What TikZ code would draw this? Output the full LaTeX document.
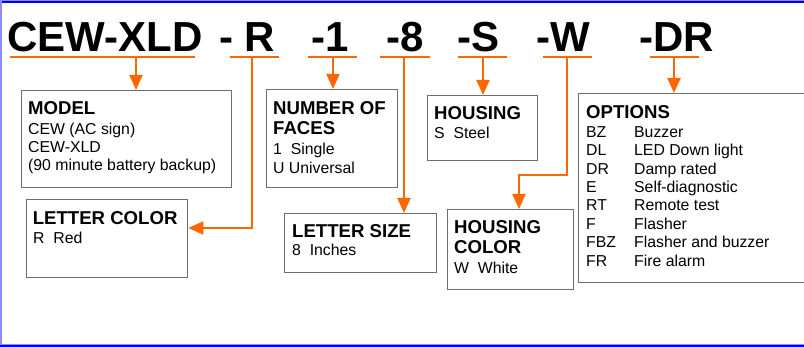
\documentclass[tikz,border=0pt]{standalone}
\usepackage{fontspec}
\setmainfont{Liberation Sans}
\usetikzlibrary{arrows.meta}
\definecolor{orng}{HTML}{FF6600}
\definecolor{boxgray}{HTML}{6E6E6E}
\definecolor{frameblue}{HTML}{0000FF}
\definecolor{framelav}{HTML}{8C8CFF}
\tikzset{
  hdr/.style={anchor=base west, inner sep=0pt, font=\fontsize{42}{42}\selectfont\bfseries},
  uline/.style={orng, line width=2pt},
  conn/.style={orng, line width=2pt, -{Triangle[length=15pt,width=13pt]}},
  infobox/.style={draw=boxgray, line width=1.3pt, anchor=north west, inner sep=0pt},
  ttl/.style={anchor=base west, inner sep=0pt, font=\fontsize{18.6}{20}\selectfont\bfseries},
  bdy/.style={anchor=base west, inner sep=0pt, font=\fontsize{15.8}{18}\selectfont},
}
\newcommand{\optrow}[2]{\makebox[48pt][l]{#1}#2}
\begin{document}
\begin{tikzpicture}[x=1pt,y=-1pt]
\useasboundingbox (0,0) rectangle (804,347);
% frame
\fill[framelav] (0,0) rectangle (804,1);
\fill[frameblue] (0,1) rectangle (804,3.2);
\fill[framelav] (0,0) rectangle (1.6,347);
\fill[framelav] (0,344) rectangle (804,345.2);
\fill[frameblue] (0,345.2) rectangle (804,347);

% header
\node[hdr] (hA) at (7,52) {CEW-XLD};
\node[hdr] (hB) at (219,52) {- R};
\node[hdr] (hC) at (311,52) {-1};
\node[hdr] (hD) at (386,52) {-8};
\node[hdr] (hE) at (457,52) {-S};
\node[hdr] (hF) at (536,52) {-W};
\node[hdr] (hG) at (639,52) {-DR};

% underlines
\draw[uline] (10,57.5) -- (195,57.5);
\draw[uline] (230,57.5) -- (279,57.5);
\draw[uline] (308,57.5) -- (357,57.5);
\draw[uline] (380,57.5) -- (430,57.5);
\draw[uline] (458,57.5) -- (507,57.5);
\draw[uline] (543,57.5) -- (592,57.5);
\draw[uline] (650,57.5) -- (699,57.5);

\coordinate (cA) at (136,57.5);
\coordinate (cB) at (252,57.5);
\coordinate (cC) at (333,57.5);
\coordinate (cD) at (404,57.5);
\coordinate (cE) at (483,57.5);
\coordinate (cF) at (567,57.5);
\coordinate (cG) at (674,57.5);

% boxes
\node[infobox, minimum width=210pt, minimum height=97pt] (model) at (21,90) {};
\node[infobox, minimum width=161pt, minimum height=78pt] (lc) at (26,199) {};
\node[infobox, minimum width=131pt, minimum height=98pt] (faces) at (266,89) {};
\node[infobox, minimum width=110pt, minimum height=65pt] (housing) at (427,95) {};
\node[infobox, minimum width=152pt, minimum height=59pt] (size) at (284,213) {};
\node[infobox, minimum width=126pt, minimum height=80pt] (hc) at (447,209) {};
\node[infobox, minimum width=230pt, minimum height=189pt] (opt) at (578,93) {};

% texts
\node[ttl] (tModel) at (28,115) {MODEL};
\node[bdy] (bModel) at (28,134.3) {\begin{tabular}[t]{@{}l@{}}CEW (AC sign)\\CEW-XLD\\(90 minute battery backup)\end{tabular}};

\node[ttl] (tLc) at (32.6,225) {LETTER COLOR};
\node[bdy] (bLc) at (33,243.3) {R~~Red};

\node[ttl] (tFaces) at (273,115) {\begin{tabular}[t]{@{}l@{}}NUMBER OF\\FACES\end{tabular}};
\node[bdy] (bFaces) at (273,154.6) {\fontsize{15.8}{19}\selectfont\begin{tabular}[t]{@{}l@{}}1~~Single\\U Universal\end{tabular}};

\node[ttl] (tHousing) at (434,120) {HOUSING};
\node[bdy] (bHousing) at (434,138.3) {S~~Steel};

\node[ttl] (tSize) at (292,237.3) {LETTER SIZE};
\node[bdy] (bSize) at (292,256) {8~~Inches};

\node[ttl] (tHc) at (454,234) {\begin{tabular}[t]{@{}l@{}}HOUSING\\COLOR\end{tabular}};
\node[bdy] (bHc) at (454,273.3) {W~~White};

\node[ttl] (tOpt) at (586,119) {OPTIONS};
\node[bdy] (bOpt) at (586,137.3) {\fontsize{15.8}{18.4}\selectfont\begin{tabular}[t]{@{}l@{}}
\optrow{BZ}{Buzzer}\\
\optrow{DL}{LED Down light}\\
\optrow{DR}{Damp rated}\\
\optrow{E}{Self-diagnostic}\\
\optrow{RT}{Remote test}\\
\optrow{F}{Flasher}\\
\optrow{FBZ}{Flasher and buzzer}\\
\optrow{FR}{Fire alarm}\end{tabular}};

% connectors
\path (lc.north east) ++(0,29) coordinate (lcIn);
\coordinate (fBend) at (519,175);
\draw[conn] (cA) -- (cA |- model.north);
\draw[conn] (cB) |- (lcIn);
\draw[conn] (cC) -- (cC |- faces.north);
\draw[conn] (cD) -- (cD |- size.north);
\draw[conn] (cE) -- (cE |- housing.north);
\draw[conn] (cF) |- (fBend) -- (fBend |- hc.north);
\draw[conn] (cG) -- (cG |- opt.north);
\end{tikzpicture}
\end{document}
